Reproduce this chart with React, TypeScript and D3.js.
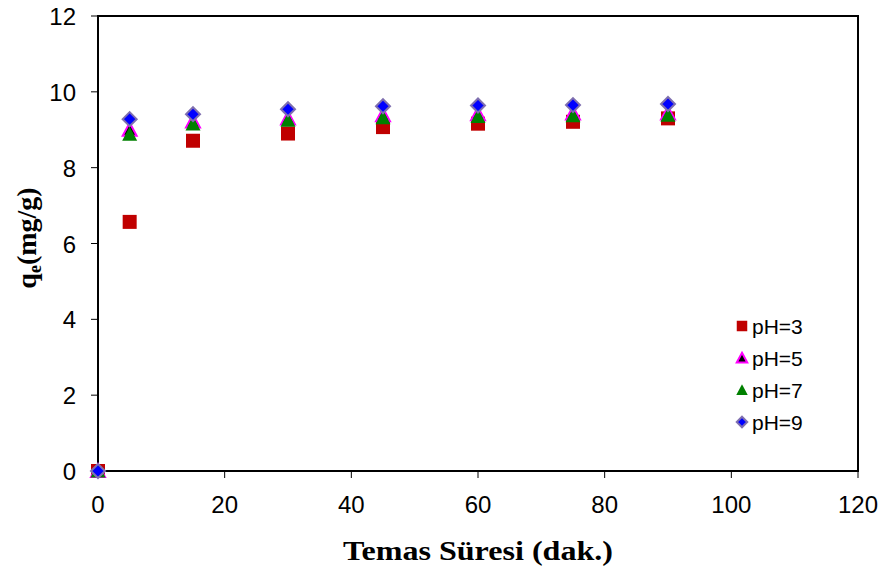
import React from "react";
import * as d3 from "d3";

const times = [0, 5, 15, 30, 45, 60, 75, 90];
const ph3 = [0, 6.57, 8.71, 8.9, 9.07, 9.16, 9.21, 9.3];
const ph5 = [0, 9.0, 9.22, 9.3, 9.38, 9.41, 9.43, 9.43];
const ph7 = [0, 8.88, 9.15, 9.25, 9.32, 9.35, 9.37, 9.38];
const ph9 = [0, 9.28, 9.41, 9.54, 9.62, 9.64, 9.65, 9.68];
const xTicks = [0, 20, 40, 60, 80, 100, 120];
const yTicks = [0, 2, 4, 6, 8, 10, 12];
const seriesNames = ["pH=3", "pH=5", "pH=7", "pH=9"];

const W = 883, H = 566;
const L = 98, R = 858, T = 16, B = 471;

function Marker({ kind, x, y, s = 1 }: { kind: number; x: number; y: number; s?: number }) {
  const h = 7 * s;
  if (kind === 0) return <rect x={x - h} y={y - h} width={2 * h} height={2 * h} fill="#C00000" />;
  if (kind === 1)
    return <path d={`M${x},${y - h}L${x + h},${y + h * 0.86}L${x - h},${y + h * 0.86}Z`} fill="#000" stroke="#FF00FF" strokeWidth={2} />;
  if (kind === 2)
    return <path d={`M${x},${y - h - 0.5}L${x + h + 0.5},${y + h * 0.93}L${x - h - 0.5},${y + h * 0.93}Z`} fill="#008000" />;
  return <path d={`M${x},${y - h}L${x + h},${y}L${x},${y + h}L${x - h},${y}Z`} fill="#0000FF" stroke="#7F6FAF" strokeWidth={2} />;
}

export default function App() {
  const xs = d3.scaleLinear().domain([0, 120]).range([L, R]);
  const ys = d3.scaleLinear().domain([0, 12]).range([B, T]);
  const all = [ph3, ph5, ph7, ph9];
  const legendY = [326, 358, 390, 422];
  const sans = "'Liberation Sans', Arial, sans-serif";
  const serif = "'Liberation Serif', 'Times New Roman', serif";
  return (
    <svg width={W} height={H} style={{ display: "block", position: "absolute", left: 0, top: 0 }}>
      <rect width={W} height={H} fill="#fff" />
      {yTicks.map((t) => (
        <g key={"y" + t}>
          <line x1={L - 7} x2={L} y1={ys(t)} y2={ys(t)} stroke="#000" strokeWidth={1} />
          <text x={76} y={ys(t) + 9} textAnchor="end" fontFamily={sans} fontSize={24}>{t}</text>
        </g>
      ))}
      {xTicks.map((t) => (
        <g key={"x" + t}>
          <line x1={xs(t)} x2={xs(t)} y1={B} y2={B + 7} stroke="#000" strokeWidth={1} />
          <text x={xs(t)} y={513} textAnchor="middle" fontFamily={sans} fontSize={24}>{t}</text>
        </g>
      ))}
      <rect x={L} y={T} width={R - L} height={B - T} fill="none" stroke="#000" strokeWidth={2} />
      {all.map((s, k) =>
        s.map((v, i) => <Marker key={k + "-" + i} kind={k} x={xs(times[i])} y={ys(v)} />)
      )}
      {seriesNames.map((n, k) => (
        <g key={n}>
          <Marker kind={k} x={742} y={legendY[k]} s={0.75} />
          <text x={752} y={legendY[k] + 8} fontFamily={sans} fontSize={21}>{n}</text>
        </g>
      ))}
      <text x={478} y={560} textAnchor="middle" fontFamily={serif} fontWeight="bold" fontSize={28} textLength={270} lengthAdjust="spacingAndGlyphs">Temas Süresi (dak.)</text>
      <text transform={`translate(36,238) rotate(-90)`} textAnchor="middle" fontFamily={serif} fontWeight="bold" fontSize={28}>
        q<tspan fontSize={18} dy={5}>e</tspan><tspan dy={-5}>(mg/g)</tspan>
      </text>
    </svg>
  );
}
